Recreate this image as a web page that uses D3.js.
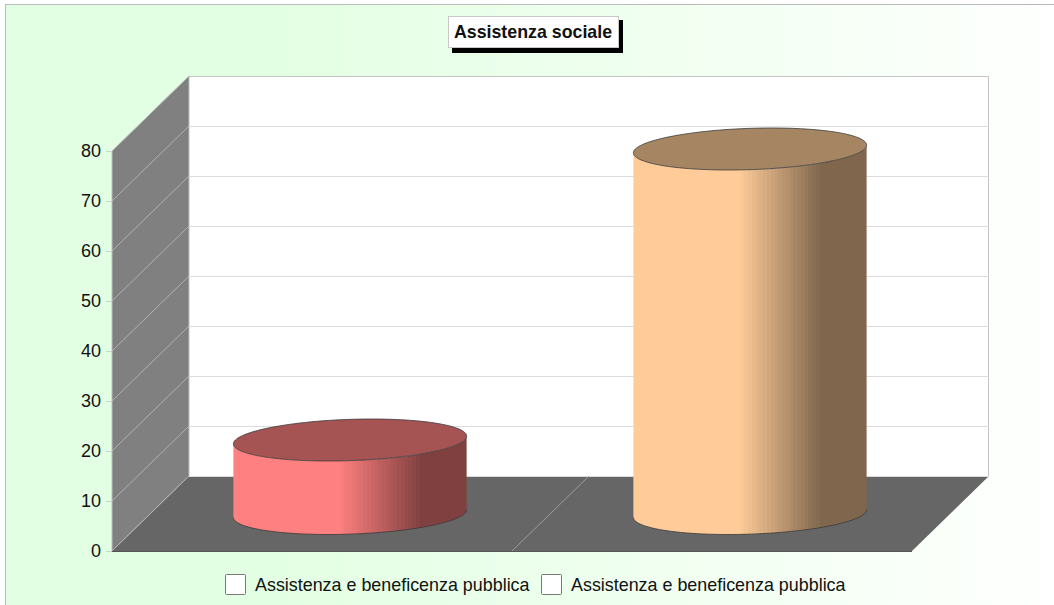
<!DOCTYPE html>
<html>
<head>
<meta charset="utf-8">
<script src="https://cdn.jsdelivr.net/npm/d3@7"></script>
<style>
  html, body { margin: 0; padding: 0; background: #fff; overflow: hidden; }
  text { font-family: "Liberation Sans", Arial, sans-serif; fill: #111; }
</style>
</head>
<body>
<div id="chart"></div>
<script>
const chartTitle = 'Assistenza sociale';
const categories = ['a', 'b'];
const values = [14.7, 72.9];
const legendLabels = ['Assistenza e beneficenza pubblica', 'Assistenza e beneficenza pubblica'];
const yTicks = [0, 10, 20, 30, 40, 50, 60, 70, 80];
const barColors = ['#ff8080', '#ffcc99'];

const width = 1054;
const height = 605;
const depthX = 77;
const depthY = 75;

const svg = d3.select('#chart').append('svg')
  .attr('width', width)
  .attr('height', height)
  .style('display', 'block');
const defs = svg.append('defs');

const bg = defs.append('linearGradient').attr('id', 'bg');
bg.append('stop').attr('offset', '0.25').attr('stop-color', '#e3ffe3');
bg.append('stop').attr('offset', '1').attr('stop-color', '#ffffff');

svg.append('rect')
  .attr('x', 5.5).attr('y', 4.5)
  .attr('width', width + 20).attr('height', height + 20)
  .attr('fill', 'url(#bg)')
  .attr('stroke', '#bbb');

const x = d3.scaleBand().domain(categories).range([112, 912]);
const y = d3.scaleLinear().domain([0, 80]).range([551, 151]);

const x0 = x.range()[0];
const x1 = x.range()[1];
const y0 = y(0);
const yTop = y(80);
const poly = (pts) => 'M' + pts.join('L') + 'Z';

// back wall
svg.append('rect')
  .attr('x', x0 + depthX - 0.5).attr('y', yTop - depthY + 0.5)
  .attr('width', x1 - x0).attr('height', y0 - yTop)
  .attr('fill', '#fff')
  .attr('stroke', '#c4c4c4');

// side wall and floor
svg.append('path')
  .attr('d', poly([[x0, yTop], [x0 + depthX, yTop - depthY], [x0 + depthX, y0 - depthY], [x0, y0]]))
  .attr('fill', '#808080')
  .attr('stroke', '#bdbdbd');
svg.append('path')
  .attr('d', poly([[x0, y0], [x0 + depthX, y0 - depthY], [x1 + depthX, y0 - depthY], [x1, y0]]))
  .attr('fill', '#666666');
svg.append('line')
  .attr('x1', x0).attr('x2', x1).attr('y1', y0 + 0.5).attr('y2', y0 + 0.5)
  .attr('stroke', '#555');

// grid lines, on the wall and along the side
const grid = svg.append('g');
grid.selectAll('line.back').data(yTicks.slice(1, -1).concat(0)).join('line')
  .attr('class', 'back')
  .attr('x1', x0 + depthX).attr('x2', x1 + depthX)
  .attr('y1', (d) => Math.round(y(d) - depthY) + 0.5)
  .attr('y2', (d) => Math.round(y(d) - depthY) + 0.5)
  .attr('stroke', '#dcdcdc');
grid.selectAll('line.side').data(yTicks.slice(0, -1)).join('line')
  .attr('class', 'side')
  .attr('x1', x0).attr('x2', x0 + depthX)
  .attr('y1', (d) => y(d)).attr('y2', (d) => y(d) - depthY)
  .attr('stroke', '#bdbdbd').attr('stroke-width', 0.8);

// divider on the floor between the two categories
svg.append('line')
  .attr('x1', x(categories[1])).attr('x2', x(categories[1]) + depthX)
  .attr('y1', y0).attr('y2', y0 - depthY)
  .attr('stroke', '#aaa').attr('stroke-width', 0.8);

// y axis
const yAxis = svg.append('g')
  .attr('transform', `translate(${x0}, 0)`)
  .call(d3.axisLeft(y).tickValues(yTicks).tickSize(6).tickPadding(5));
yAxis.select('.domain').remove();
yAxis.selectAll('line').attr('stroke', '#d0d0d0');
yAxis.selectAll('text').attr('font-size', 18).attr('font-family', '"Liberation Sans", Arial, sans-serif');

// cylinders
const radius = x.bandwidth() * 0.2865;
const tilt = depthY * 0.28;
const skew = depthX * 0.28;
const t0 = Math.atan(skew / radius);
const ring = (cx, cy, t) => [cx + radius * Math.cos(t) + skew * Math.sin(t), cy - tilt * Math.sin(t)];
const frontAngles = d3.range(0, 61).map((i) => t0 + Math.PI + (Math.PI * i) / 60);
const allAngles = d3.range(0, 120).map((i) => (2 * Math.PI * i) / 120);
const line = d3.line();

categories.forEach((c, i) => {
  const base = d3.color(barColors[i]);
  const grad = defs.append('linearGradient').attr('id', `body${i}`);
  const steps = 22;
  const start = 0.46;
  const end = 0.815;
  const dark = d3.rgb(base.r * 0.5, base.g * 0.5, base.b * 0.5);
  const shade = d3.interpolateRgb(base, dark);
  grad.append('stop').attr('offset', 0).attr('stop-color', base);
  d3.range(steps).forEach((s) => {
    const a = start + ((end - start) * s) / steps;
    const b = start + ((end - start) * (s + 1)) / steps;
    const col = shade((s + 1) / steps);
    grad.append('stop').attr('offset', a).attr('stop-color', s ? col : base);
    grad.append('stop').attr('offset', a).attr('stop-color', col);
    grad.append('stop').attr('offset', b).attr('stop-color', col);
  });
  grad.append('stop').attr('offset', 1).attr('stop-color', dark);

  const cx = x(c) + x.bandwidth() / 2 + depthX / 2 - 0.5;
  const baseY = y(0) - depthY / 2;
  const topY = y(values[i]) - depthY / 2;
  const g = svg.append('g');

  const lower = frontAngles.map((t) => ring(cx, baseY, t));
  const upper = frontAngles.map((t) => ring(cx, topY, t)).reverse();
  g.append('path')
    .attr('d', line(lower.concat(upper)) + 'Z')
    .attr('fill', `url(#body${i})`);
  g.append('path')
    .attr('d', line(lower))
    .attr('fill', 'none')
    .attr('stroke', '#3a3a3a')
    .attr('stroke-width', 0.8);
  g.append('path')
    .attr('d', line(allAngles.map((t) => ring(cx, topY, t))) + 'Z')
    .attr('fill', d3.rgb(base.r * 0.65, base.g * 0.65, base.b * 0.65))
    .attr('stroke', '#3a3a3a')
    .attr('stroke-width', 0.8);
});

// title box
const title = svg.append('g');
title.append('rect')
  .attr('x', 452).attr('y', 20).attr('width', 171).attr('height', 33)
  .attr('fill', '#000');
title.append('rect')
  .attr('x', 448.5).attr('y', 16.5).attr('width', 170).attr('height', 31)
  .attr('fill', '#fff').attr('stroke', '#c8c8c8');
title.append('text')
  .attr('x', 533).attr('y', 37.5)
  .attr('text-anchor', 'middle')
  .attr('font-size', 17.8).attr('font-weight', 'bold')
  .text(chartTitle);

// legend
const legend = svg.append('g');
const legendX = d3.scalePoint().domain(d3.range(legendLabels.length)).range([225, 541]);
legendLabels.forEach((label, i) => {
  legend.append('rect')
    .attr('x', legendX(i) + 0.5).attr('y', 574.5)
    .attr('width', 20).attr('height', 20).attr('rx', 1)
    .attr('fill', '#fff').attr('stroke', '#777');
  legend.append('text')
    .attr('x', legendX(i) + 30).attr('y', 590.5)
    .attr('font-size', 17.9)
    .text(label);
});
</script>
</body>
</html>
